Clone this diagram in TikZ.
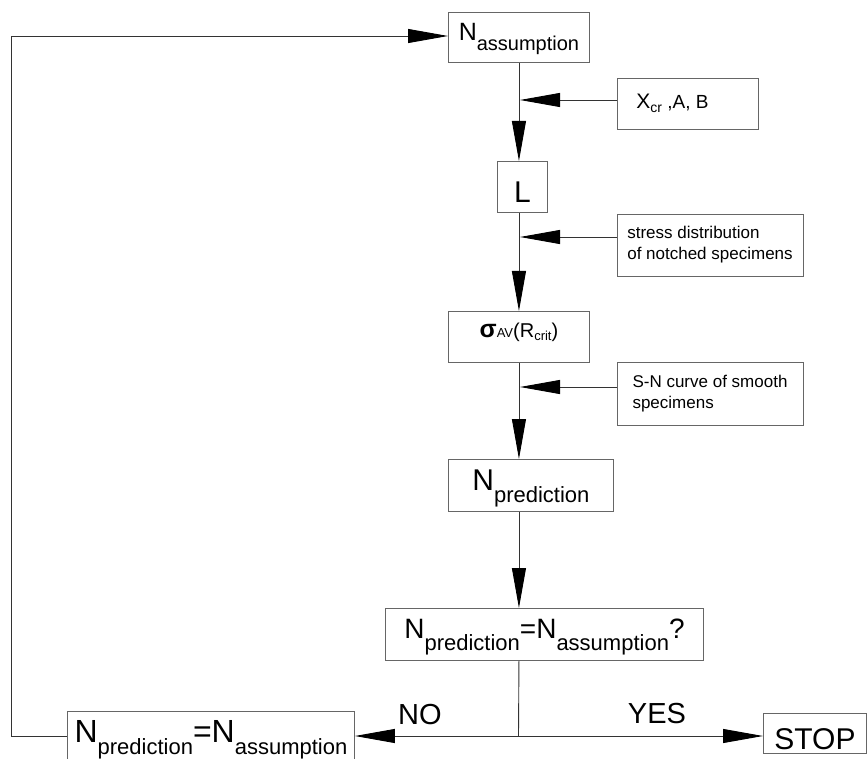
\documentclass[tikz,border=0pt]{standalone}
\usepackage{fontspec}
\setmainfont{Liberation Sans}
\usetikzlibrary{arrows.meta}
\newcommand{\fsz}[1]{\fontsize{#1}{#1}\selectfont}
\newcommand{\subt}[3]{\raisebox{-#1pt}{\fsz{#2}#3}}
\begin{document}
\begin{tikzpicture}[x=1pt,y=-1pt,
  boxnode/.style={draw=black!60, line width=0.9pt, inner sep=0pt, anchor=north west},
  cbox/.style={draw=black!60, line width=0.9pt, inner sep=0pt, anchor=center, align=left,
               font=\fontsize{17}{21}\selectfont},
  conn/.style={draw=black!80, line width=0.9pt},
  arr/.style={conn, -{Triangle[length=40pt,width=14pt,color=black]}},
  lbl/.style={inner sep=0pt, font=\fontsize{29}{29}\selectfont}]
\useasboundingbox (0,0) rectangle (868,759);
\clip (0,0) rectangle (868,759);

\node[boxnode, minimum width=141pt, text height=28pt, text depth=22pt] (nA) at (448,12)
  {\fsz{25}N\subt{10}{20}{assumption}};
\node[boxnode, minimum width=141pt, text height=30pt, text depth=21pt] (xcr) at (617,78)
  {\makebox[141pt][l]{\hspace{19pt}\fsz{21}X\subt{4}{14}{cr}\fsz{19} ,A, B}};
\node[boxnode, minimum width=50pt, text height=41pt, text depth=10pt] (L) at (497,161)
  {\fsz{30}L};
\node[cbox, minimum width=186pt, minimum height=62pt] (stress) at (710,245)
  {stress distribution\\of notched specimens};
\node[boxnode, minimum width=141pt, text height=26pt, text depth=25pt] (sig) at (448,311)
  {\fsz{25}\textbf{σ}\fsz{13}AV\fsz{20}(R\subt{3}{13}{crit})};
\node[cbox, minimum width=186pt, minimum height=63pt] (SN) at (710,393.5)
  {S-N curve of smooth\\specimens};
\node[boxnode, minimum width=165pt, text height=31pt, text depth=21pt] (nP) at (448,459)
  {\fsz{30}N\subt{12}{22}{prediction}};
\node[boxnode, minimum width=318pt, text height=30pt, text depth=22pt] (dec) at (385,608)
  {\fsz{28}N\subt{12}{22}{prediction}=N\subt{12}{22}{assumption}?};
\node[boxnode, minimum width=287pt, text height=31pt, text depth=30pt] (bl) at (67,711)
  {\fsz{32}N\subt{12}{22}{prediction}=N\subt{12}{22}{assumption}};
\node[boxnode, minimum width=103pt, text height=36pt, text depth=4pt] (stop) at (763,713)
  {\fsz{30}STOP};
\node[lbl, anchor=west] (no) at (398,715) {NO};
\node[lbl] (yes) at (657,714) {YES};

\coordinate (jx) at (520,100);
\coordinate (js) at (520,237);
\coordinate (jn) at (520,387);
\coordinate (jb) at (518.5,736);
\coordinate (cl) at (11,736);
\coordinate (ct) at (11,36);

\draw[arr] (nA.south) -- (nA.south |- L.north);
\draw[arr] (xcr.west |- jx) -- (jx);
\draw[arr] (sig.north |- L.south) -- (sig.north);
\draw[arr] (stress.west |- js) -- (js);
\draw[arr] (sig.south) -- (sig.south |- nP.north);
\draw[arr] (SN.west |- jn) -- (jn);
\draw[arr] (sig.south |- nP.south) -- (sig.south |- dec.north);
\draw[conn] (sig.south |- dec.south) -- (jb);
\draw[arr] (jb) -- (jb -| bl.east);
\draw[arr] (jb) -- (jb -| stop.west);
\draw[arr] (bl.west |- jb) -- (cl) -- (ct) -- (ct -| nA.west);
\end{tikzpicture}
\end{document}
